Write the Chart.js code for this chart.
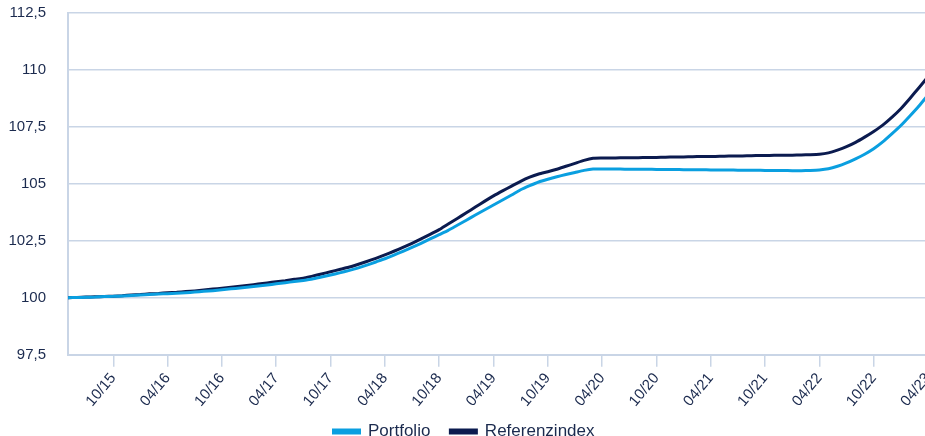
<!DOCTYPE html>
<html>
<head>
<meta charset="utf-8">
<script src="https://cdn.jsdelivr.net/npm/chart.js@4"></script>
<style>
  html, body { margin: 0; padding: 0; background: #fff; overflow: hidden; }
  #wrap { width: 932px; height: 460px; }
</style>
</head>
<body>
<div id="wrap"><canvas id="perfChart" width="932" height="460"></canvas></div>
<script>
// monthly index values, 05/15 .. 04/23 (start = 100)
const portfolio = [
  100.00, 100.01, 100.02, 100.03, 100.05, 100.06, 100.08, 100.10, 100.12, 100.14,
  100.16, 100.18, 100.20, 100.22, 100.25, 100.28, 100.31, 100.35, 100.39, 100.43,
  100.47, 100.51, 100.56, 100.61, 100.66, 100.71, 100.76, 100.82, 100.91, 101.00,
  101.09, 101.19, 101.30, 101.43, 101.57, 101.71, 101.87, 102.04, 102.21, 102.39,
  102.58, 102.77, 102.96, 103.18, 103.40, 103.63, 103.85, 104.07, 104.29, 104.51,
  104.74, 104.92, 105.08, 105.20, 105.31, 105.41, 105.50, 105.59, 105.65, 105.65,
  105.65, 105.65, 105.64, 105.64, 105.64, 105.63, 105.63, 105.63, 105.62, 105.62,
  105.62, 105.61, 105.61, 105.61, 105.60, 105.60, 105.60, 105.59, 105.59, 105.59,
  105.58, 105.58, 105.59, 105.61, 105.66, 105.77, 105.92, 106.10, 106.30, 106.54,
  106.84, 107.19, 107.56, 107.98, 108.42, 108.90
];

const referenzindex = [
  100.00, 100.01, 100.03, 100.04, 100.05, 100.07, 100.09, 100.12, 100.14, 100.17,
  100.19, 100.22, 100.24, 100.27, 100.30, 100.34, 100.38, 100.42, 100.46, 100.50,
  100.55, 100.60, 100.65, 100.70, 100.75, 100.81, 100.86, 100.95, 101.04, 101.14,
  101.24, 101.34, 101.46, 101.59, 101.73, 101.88, 102.04, 102.21, 102.39, 102.58,
  102.78, 102.99, 103.24, 103.48, 103.73, 103.98, 104.23, 104.47, 104.69, 104.90,
  105.11, 105.29, 105.43, 105.53, 105.64, 105.77, 105.90, 106.03, 106.12, 106.13,
  106.13, 106.14, 106.14, 106.15, 106.16, 106.16, 106.17, 106.18, 106.18, 106.19,
  106.20, 106.20, 106.21, 106.22, 106.22, 106.23, 106.24, 106.24, 106.25, 106.26,
  106.26, 106.27, 106.28, 106.30, 106.36, 106.48, 106.63, 106.82, 107.05, 107.30,
  107.58, 107.92, 108.30, 108.75, 109.22, 109.70
];

const yTicks = [97.5, 100, 102.5, 105, 107.5, 110, 112.5];

// month labels "MM/YY" starting at 05/15
const labels = [];
for (let i = 0; i < portfolio.length; i++) {
  const m = (4 + i) % 12 + 1;
  const y = 15 + Math.floor((4 + i) / 12);
  labels.push(String(m).padStart(2, "0") + "/" + y);
}

const gridColor = "#c9d5e6";
const textColor = "#1b2a4e";
const fontFamily = "'Liberation Sans', Arial, sans-serif";
const font = { family: fontFamily, size: 15 };

// pull the legend a bit closer to the axis labels
const liftLegend = {
  id: "liftLegend",
  afterLayout(chart) {
    const lg = chart.legend;
    if (!lg) return;
    lg.top -= 10;
    lg.bottom -= 10;
    if (lg.legendHitBoxes) lg.legendHitBoxes.forEach((b) => (b.top -= 10));
  },
};

const ctx = document.getElementById("perfChart").getContext("2d");

const chart = new Chart(ctx, {
  type: "line",
  data: {
    labels,
    datasets: [
      {
        label: "Portfolio",
        data: portfolio,
        borderColor: "#0a9fe0",
        backgroundColor: "#0a9fe0",
        borderWidth: 3,
        pointRadius: 0,
        tension: 0.2,
      },
      {
        label: "Referenzindex",
        data: referenzindex,
        borderColor: "#0b1b4f",
        backgroundColor: "#0b1b4f",
        borderWidth: 3,
        pointRadius: 0,
        tension: 0.2,
      },
    ],
  },
  plugins: [liftLegend],
  options: {
    responsive: false,
    animation: false,
    layout: { padding: { top: 0, left: 0, right: 4, bottom: 0 } },
    plugins: {
      tooltip: { enabled: false },
      legend: {
        position: "bottom",
        labels: {
          boxWidth: 26,
          boxHeight: 3,
          padding: 20,
          color: textColor,
          font: { family: fontFamily, size: 17 },
        },
      },
    },
    scales: {
      x: {
        afterFit: (axis) => {
          axis.paddingLeft = 0;
          axis.paddingRight = 0;
        },
        grid: {
          drawOnChartArea: false,
          color: gridColor,
          lineWidth: 1.5,
          tickLength: 12,
        },
        border: { color: gridColor, width: 2 },
        ticks: {
          autoSkip: false,
          minRotation: 50,
          maxRotation: 50,
          padding: 3,
          color: textColor,
          font,
          callback: function (val, idx) {
            const lab = labels[idx];
            return lab.startsWith("04/") || lab.startsWith("10/") ? lab : null;
          },
        },
      },
      y: {
        min: 97.5,
        max: 112.5,
        afterBuildTicks: (axis) => {
          axis.ticks = yTicks.map((v) => ({ value: v }));
        },
        afterFit: (axis) => {
          axis.width = 68;
        },
        grid: {
          color: gridColor,
          lineWidth: 1.5,
          tickLength: 18,
          tickColor: "rgba(0,0,0,0)",
        },
        border: { color: gridColor, width: 2 },
        ticks: {
          padding: 4,
          color: textColor,
          font,
          callback: (v) => v.toLocaleString("de-DE"),
        },
      },
    },
  },
});
</script>
</body>
</html>
